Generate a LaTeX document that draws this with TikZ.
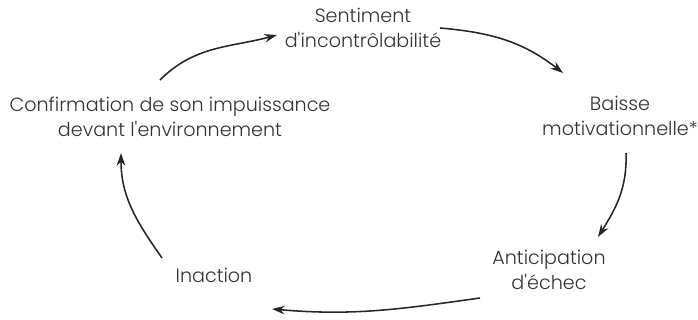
\documentclass[tikz,border=0pt]{standalone}
\usepackage{fontspec}
\setmainfont{Poppins Light}[Ligatures=TeXOff]
\usetikzlibrary{arrows.meta}

\begin{document}
\begin{tikzpicture}[x=0.025cm, y=-0.025cm,
    etape/.style={align=center, inner sep=2pt, font=\fontsize{13.6}{18}\selectfont, text=black!80},
    cycle/.style={-{Stealth[length=9pt,width=6pt]}, line width=1.1pt, black!85}]
    \useasboundingbox (0,0) rectangle (698,320);
    % Etapes du cycle
    \node[etape] (sent) at (363,28) {Sentiment\\d'incontrôlabilité};
    \node[etape] (baisse) at (620,116) {Baisse\\motivationnelle*};
    \node[etape] (antic) at (549,270) {Anticipation\\d'échec};
    \node[etape] (inact) at (214,275) {Inaction};
    \node[etape] (conf) at (170,117) {Confirmation de son impuissance\\devant l'environnement};

    % Fleches
    \draw[cycle] ([shift={(-10,-37)}]conf.center) to[out=45, in=195] ([shift={(-86,7)}]sent.center);
    \draw[cycle] ([shift={(77,0)}]sent.center) to[out=-5, in=142] ([shift={(-57,-43)}]baisse.center);
    \draw[cycle] ([shift={(6,37)}]baisse.center) to[out=-88, in=58] ([shift={(49,-33)}]antic.center);
    \draw[cycle] ([shift={(-69,28)}]antic.center) to[out=188, in=-5] ([shift={(58,34)}]inact.center);
    \draw[cycle] ([shift={(-52,-17)}]inact.center) to[out=125, in=-90] ([shift={(-49,36)}]conf.center);
\end{tikzpicture}
\end{document}
